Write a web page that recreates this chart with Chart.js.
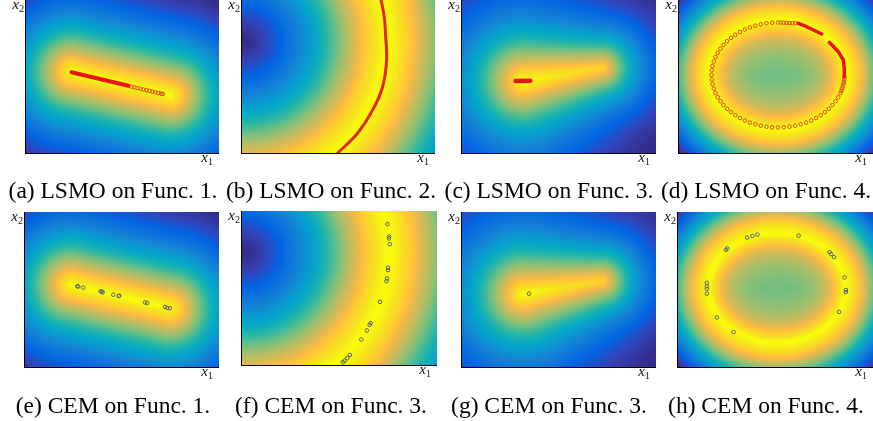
<!DOCTYPE html>
<html><head><meta charset="utf-8">
<script src="https://cdn.jsdelivr.net/npm/chart.js@4.4.0/dist/chart.umd.min.js"></script>
<style>
html,body{margin:0;padding:0;background:#fff;width:873px;height:421px;overflow:hidden;}
canvas{position:absolute;}
.lbl{position:absolute;font-family:"Liberation Serif","DejaVu Serif",serif;font-style:italic;font-size:15px;line-height:1;color:#111;white-space:nowrap;}
.lbl sub{font-style:normal;font-size:10px;vertical-align:-3px;line-height:1;}
.cap{position:absolute;width:260px;text-align:center;font-family:"Liberation Serif","Times New Roman",serif;font-size:23.5px;line-height:1;color:#000;white-space:nowrap;}
</style></head><body>
<script>
// ---------- data (axis units: x1 in [0,195], x2 in [0,153]) ----------
const X_RANGE = [0, 195];
const Y_RANGE = [0, 153];

// shapes of the four objective functions
const FUNC1_SEGMENT = [[47, 81], [146, 58]];
const FUNC2_CENTER = [4, 112];
const FUNC2_RADIUS = 143.5;
const FUNC3_SEGMENT = [[62, 72], [141, 85]];
const FUNC4_CENTER = [99.5, 78];
const FUNC4_RADII = [67, 53];

// LSMO results
const LSMO_F1_LINE = [[46.7, 80.7], [104, 67.2]];
const LSMO_F1_PTS = [[107, 66.4], [110, 65.7], [113, 65.0], [116, 64.3], [119, 63.5], [122, 62.8], [125, 62.1], [128, 61.4], [131, 60.7], [134, 60.0], [137, 59.3], [138.5, 59.0]];
const LSMO_F2_CURVE = [[140.4, 155], [144, 136], [145.2, 120], [146.3, 93], [142.3, 66], [132.3, 43], [117.3, 20], [97.3, 0], [95.6, -2]];
const LSMO_F3_LINE = [[54.7, 72], [69.3, 72.3]];
const LSMO_F4_ARC1 = [[120.3, 129.7], [128.7, 126.3], [143.7, 119]];
const LSMO_F4_ARC2 = [[151.3, 110.7], [160.3, 101.3], [165.3, 93], [166.3, 84], [166.3, 76.3]];
const LSMO_F4_PTS = [[166.4, 75.7], [166.3, 73.4], [165.9, 71.2], [165.5, 68.9], [164.9, 66.6], [164.2, 64.4], [163.4, 62.2], [162.5, 60.0], [160.3, 55.8], [157.6, 51.8], [154.5, 47.9], [150.9, 44.3], [147.0, 40.9], [142.8, 37.8], [138.1, 35.0], [133.3, 32.5], [128.1, 30.4], [122.7, 28.7], [117.2, 27.3], [111.5, 26.3], [105.8, 25.7], [100, 25.5], [94.2, 25.7], [88.5, 26.3], [82.8, 27.3], [77.3, 28.7], [71.9, 30.4], [66.8, 32.5], [61.9, 35.0], [57.3, 37.8], [53.0, 40.9], [49.1, 44.3], [45.5, 47.9], [42.4, 51.8], [39.7, 55.8], [37.5, 60.0], [35.8, 64.4], [34.5, 68.9], [33.8, 73.4], [33.5, 78], [33.8, 82.6], [34.5, 87.1], [35.8, 91.6], [37.5, 96.0], [39.7, 100.2], [42.4, 104.3], [45.5, 108.1], [49.1, 111.8], [53.0, 115.1], [57.3, 118.2], [61.9, 121.0], [66.8, 123.5], [71.9, 125.6], [77.3, 127.3], [82.8, 128.7], [88.5, 129.7], [94.2, 130.3], [100, 130.5], [102.9, 130.5], [105.8, 130.3], [108.7, 130.1], [111.5, 129.9], [114.4, 129.8], [117.2, 129.7]];

// CEM results
const CEM_F1_PTS = [[53.3, 79.7], [54.3, 79.5], [59.3, 78.3], [76.7, 74.7], [77.5, 74.4], [78.7, 73.7], [89.3, 71.3], [94.7, 70], [95.3, 70.4], [121, 63.7], [123.3, 63.3], [141, 59.3], [143.3, 58.3], [146, 58]];
const CEM_F2_PTS = [[145.7, 140], [147.3, 127.7], [147.3, 125.7], [148, 120], [146.3, 96.7], [146.3, 94.3], [145.3, 86], [144.7, 83.3], [138.3, 62.7], [129, 41.7], [128, 40], [125.3, 34.3], [119.7, 25.3], [108.3, 10], [105.7, 6.7], [103, 4.3], [101.3, 2.7]];
const CEM_F3_PTS = [[68, 72.4]];
const CEM_F4_PTS = [[69.7, 127.7], [75, 129.4], [80, 130.7], [121, 129.7], [48.7, 115.7], [50, 117], [151.7, 113.4], [153.3, 111.4], [156.3, 108.4], [166.7, 88.4], [168, 76], [168, 74], [29.7, 83], [29.7, 79.7], [29.7, 77], [29.7, 72.4], [39.7, 49], [161.3, 54.4], [56.3, 34.4]];

const CAPTIONS = ['(a) LSMO on Func. 1.', '(b) LSMO on Func. 2.', '(c) LSMO on Func. 3.', '(d) LSMO on Func. 4.',
                  '(e) CEM on Func. 1.', '(f) CEM on Func. 3.', '(g) CEM on Func. 3.', '(h) CEM on Func. 4.'];

// ---------- colormap (parula) ----------
const PARULA = [
  [0, 0.2081, 0.1663, 0.5292], [4, 0.1959, 0.2645, 0.7279], [8, 0.0117, 0.3875, 0.8820], [12, 0.0498, 0.4586, 0.8641],
  [16, 0.0793, 0.5200, 0.8312], [20, 0.0343, 0.5966, 0.8199], [24, 0.0228, 0.6535, 0.7768], [28, 0.0843, 0.6928, 0.7062],
  [32, 0.2178, 0.7250, 0.6193], [36, 0.3953, 0.7459, 0.5244], [40, 0.5709, 0.7485, 0.4494], [44, 0.7184, 0.7411, 0.3905],
  [48, 0.8507, 0.7299, 0.3360], [52, 0.9739, 0.7314, 0.2666], [54, 0.9990, 0.7653, 0.2164], [56, 0.9880, 0.8066, 0.1794],
  [60, 0.9589, 0.8949, 0.1132], [63, 0.9763, 0.9831, 0.0538]];
function parula(t) {
  t = Math.max(0, Math.min(1, t)) * 63;
  for (let i = 1; i < PARULA.length; i++) {
    if (t <= PARULA[i][0]) {
      const a = PARULA[i - 1], b = PARULA[i], f = (t - a[0]) / (b[0] - a[0]);
      return [0, 1, 2].map(k => Math.round(255 * (a[k + 1] + f * (b[k + 1] - a[k + 1]))));
    }
  }
  const l = PARULA[PARULA.length - 1];
  return [l[1] * 255, l[2] * 255, l[3] * 255];
}

// ---------- functions ----------
function distSeg(x, y, a, b) {
  const dx = b[0] - a[0], dy = b[1] - a[1];
  let t = ((x - a[0]) * dx + (y - a[1]) * dy) / (dx * dx + dy * dy);
  t = Math.max(0, Math.min(1, t));
  const px = a[0] + t * dx - x, py = a[1] + t * dy - y;
  return Math.sqrt(px * px + py * py);
}
const ELL = [];
for (let k = 0; k < 360; k++) {
  const th = k * Math.PI / 180;
  ELL.push([FUNC4_CENTER[0] + FUNC4_RADII[0] * Math.cos(th), FUNC4_CENTER[1] + FUNC4_RADII[1] * Math.sin(th)]);
}
const FIELD = {
  1: (x, y) => Math.exp(-Math.pow(distSeg(x, y, FUNC1_SEGMENT[0], FUNC1_SEGMENT[1]) / 52.5, 1.35)),
  2: (x, y) => {
    const d = Math.abs(Math.hypot(x - FUNC2_CENTER[0], y - FUNC2_CENTER[1]) - FUNC2_RADIUS);
    return Math.exp(-Math.pow(d / 81, 1.6));
  },
  3: (x, y) => {
    const a = FUNC3_SEGMENT[0], b = FUNC3_SEGMENT[1];
    let best = 0;
    for (let k = 0; k <= 50; k++) {
      const t = k / 50;
      const d = Math.hypot(x - (a[0] + t * (b[0] - a[0])), y - (a[1] + t * (b[1] - a[1])));
      const v = (1 - 0.1 * t) * Math.exp(-Math.pow(d / (53 - 18 * t), 1.3));
      if (v > best) best = v;
    }
    return best;
  },
  4: (x, y) => {
    let dm = Infinity;
    for (const p of ELL) { const dx = x - p[0], dy = y - p[1]; const d = dx * dx + dy * dy; if (d < dm) dm = d; }
    dm = Math.sqrt(dm);
    const r = Math.pow((x - FUNC4_CENTER[0]) / FUNC4_RADII[0], 2) + Math.pow((y - FUNC4_CENTER[1]) / FUNC4_RADII[1], 2);
    return r < 1 ? 0.64 + 0.36 * Math.exp(-Math.pow(dm / 20, 1.2)) : Math.exp(-Math.pow(dm / 46, 1.8));
  }
};

function heatPlugin(fn) {
  let cache = null;
  return {
    id: 'heat',
    beforeDraw(chart) {
      const a = chart.chartArea, xs = chart.scales.x, ys = chart.scales.y;
      const L = Math.round(a.left), T = Math.round(a.top);
      const W = Math.round(a.right) - L, H = Math.round(a.bottom) - T;
      if (!cache) {
        const vals = new Float32Array(W * H);
        let mn = Infinity, mx = -Infinity;
        for (let j = 0; j < H; j++) {
          const y = ys.getValueForPixel(T + j + 0.5);
          for (let i = 0; i < W; i++) {
            const x = xs.getValueForPixel(L + i + 0.5);
            const v = fn(x, y);
            vals[j * W + i] = v;
            if (v < mn) mn = v; if (v > mx) mx = v;
          }
        }
        const img = chart.ctx.createImageData(W, H);
        for (let k = 0; k < W * H; k++) {
          const c = parula((vals[k] - mn) / (mx - mn));
          img.data[4 * k] = c[0]; img.data[4 * k + 1] = c[1]; img.data[4 * k + 2] = c[2]; img.data[4 * k + 3] = 255;
        }
        cache = img;
      }
      chart.ctx.putImageData(cache, L, T);
    }
  };
}

const xy = arr => arr.map(p => ({x: p[0], y: p[1]}));
function lineDs(arr, color, width, tension) {
  return {data: xy(arr), showLine: true, borderColor: color, borderWidth: width, pointRadius: 0,
          borderCapStyle: 'round', borderJoinStyle: 'round', tension: tension || 0, fill: false, clip: 0};
}
function circDs(arr, color, r) {
  return {data: xy(arr), showLine: false, pointRadius: r, pointBorderWidth: 1, pointBorderColor: color,
          pointBackgroundColor: 'rgba(0,0,0,0)', clip: 0};
}

const LSMO_RED = '#e8141c', LSMO_RING = '#d9482a', CEM_COL = '#5a6078';
const PANELS = [
  {left: 25, top: 0, w: 194, h: 153, f: 1, ds: [lineDs(LSMO_F1_LINE, LSMO_RED, 4), circDs(LSMO_F1_PTS, LSMO_RING, 1.8)]},
  {left: 241, top: 0, w: 194, h: 153, f: 2, ds: [lineDs(LSMO_F2_CURVE, '#e2281c', 3, 0.4)]},
  {left: 461, top: 0, w: 195, h: 153, f: 3, ds: [lineDs(LSMO_F3_LINE, LSMO_RED, 4.5)]},
  {left: 678, top: 0, w: 195, h: 153, f: 4, ds: [lineDs(LSMO_F4_ARC1, LSMO_RED, 3.5), lineDs(LSMO_F4_ARC2, LSMO_RED, 3.5), circDs(LSMO_F4_PTS, LSMO_RING, 1.8)]},
  {left: 24, top: 212, w: 195, h: 155, f: 1, ds: [circDs(CEM_F1_PTS, CEM_COL, 1.8)]},
  {left: 241, top: 211, w: 196, h: 154, f: 2, ds: [circDs(CEM_F2_PTS, CEM_COL, 1.8)]},
  {left: 461, top: 212, w: 195, h: 155, f: 3, ds: [circDs(CEM_F3_PTS, CEM_COL, 1.8)]},
  {left: 677, top: 212, w: 196, h: 155, f: 4, ds: [circDs(CEM_F4_PTS, CEM_COL, 1.8)]}
];
const CAP_CENTERS = [113, 331, 549, 766];

PANELS.forEach((p, idx) => {
  const cv = document.createElement('canvas');
  cv.width = p.w + 1; cv.height = p.h + 2;
  cv.style.left = (p.left - 1) + 'px'; cv.style.top = p.top + 'px';
  cv.style.width = (p.w + 1) + 'px'; cv.style.height = (p.h + 2) + 'px';
  document.body.appendChild(cv);
  const axis = (r) => ({type: 'linear', min: r[0], max: r[1], ticks: {display: false},
    grid: {display: false, drawTicks: false}, border: {display: true, color: '#000', width: 1}});
  new Chart(cv, {
    type: 'scatter',
    data: {datasets: p.ds},
    options: {responsive: false, animation: false, events: [],
      layout: {autoPadding: false, padding: {left: 1, bottom: 2, top: 0, right: 0}},
      plugins: {legend: {display: false}, tooltip: {enabled: false}},
      scales: {x: axis(X_RANGE), y: axis(Y_RANGE)}},
    plugins: [heatPlugin(FIELD[p.f])]
  });
  const x2 = document.createElement('div');
  x2.className = 'lbl'; x2.innerHTML = 'x<sub>2</sub>';
  x2.style.right = (873 - (p.left - 1)) + 'px'; x2.style.top = (p.top - 2.6) + 'px';
  document.body.appendChild(x2);
  const x1 = document.createElement('div');
  x1.className = 'lbl'; x1.innerHTML = 'x<sub>1</sub>';
  x1.style.right = (873 - (p.left + p.w - 6)) + 'px'; x1.style.top = (p.top + p.h - 3) + 'px';
  document.body.appendChild(x1);
  const cap = document.createElement('div');
  cap.className = 'cap'; cap.textContent = CAPTIONS[idx];
  cap.style.left = (CAP_CENTERS[idx % 4] - 130) + 'px';
  cap.style.top = (idx < 4 ? 179.3 : 394.3) + 'px';
  document.body.appendChild(cap);
});
</script>
</body></html>
